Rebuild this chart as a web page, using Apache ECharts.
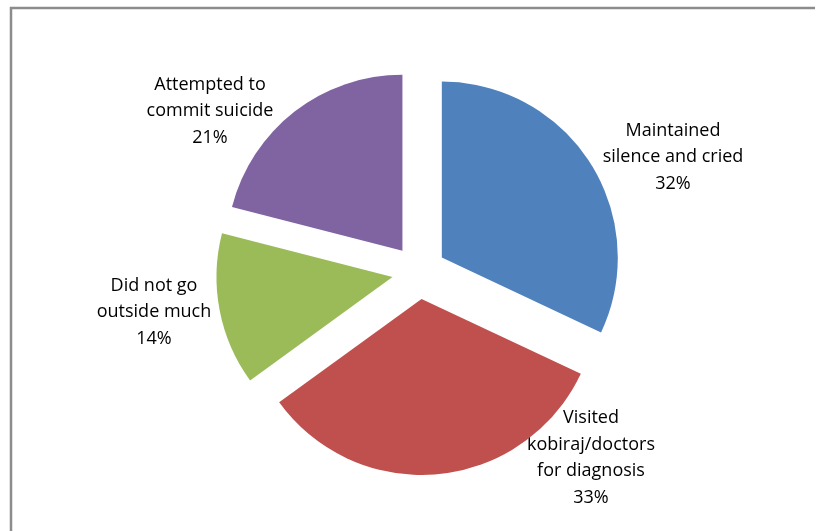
<!DOCTYPE html>
<html>
<head>
<meta charset="utf-8">
<script src="https://cdn.jsdelivr.net/npm/echarts@6/dist/echarts.min.js"></script>
<style>
html,body{margin:0;padding:0;background:#fff;}
#chart{width:815px;height:531px;}
</style>
</head>
<body>
<div id="chart"></div>
<script>
const categories = ["Maintained\nsilence and cried", "Visited\nkobiraj/doctors\nfor diagnosis", "Did not go\noutside much", "Attempted to\ncommit suicide"];
const values = [32, 33, 14, 21];
const colors = ["#4F81BD", "#C0504D", "#9BBB59", "#8064A2"];
// label centre positions (layout only)
const labelPos = [[673, 157], [591, 458], [154, 312], [210, 111]];

const labelTexts = categories.map((c, i) => ({
  type: 'text',
  x: labelPos[i][0],
  y: labelPos[i][1],
  silent: true,
  style: {
    text: c + '\n' + values[i] + '%',
    fill: '#000',
    font: '18px "Open Sans"',
    lineHeight: 26.5,
    align: 'center',
    verticalAlign: 'middle'
  }
}));

const chart = echarts.init(document.getElementById('chart'));
chart.setOption({
  animation: false,
  backgroundColor: '#ffffff',
  graphic: [{
    type: 'polyline',
    shape: { points: [[11, 540], [11, 8], [830, 8]] },
    style: { fill: 'none', stroke: '#8c8c8c', lineWidth: 2.5 },
    silent: true
  }].concat(labelTexts),
  series: [{
    type: 'pie',
    center: [419, 272],
    radius: [0, 176],
    startAngle: 90,
    clockwise: true,
    selectedMode: 'multiple',
    selectedOffset: 27,
    data: categories.map((c, i) => ({
      name: c, value: values[i], selected: true,
      itemStyle: { color: colors[i] }
    })),
    label: { show: false },
    labelLine: { show: false },
    emphasis: { disabled: true }
  }]
});
</script>
</body>
</html>
